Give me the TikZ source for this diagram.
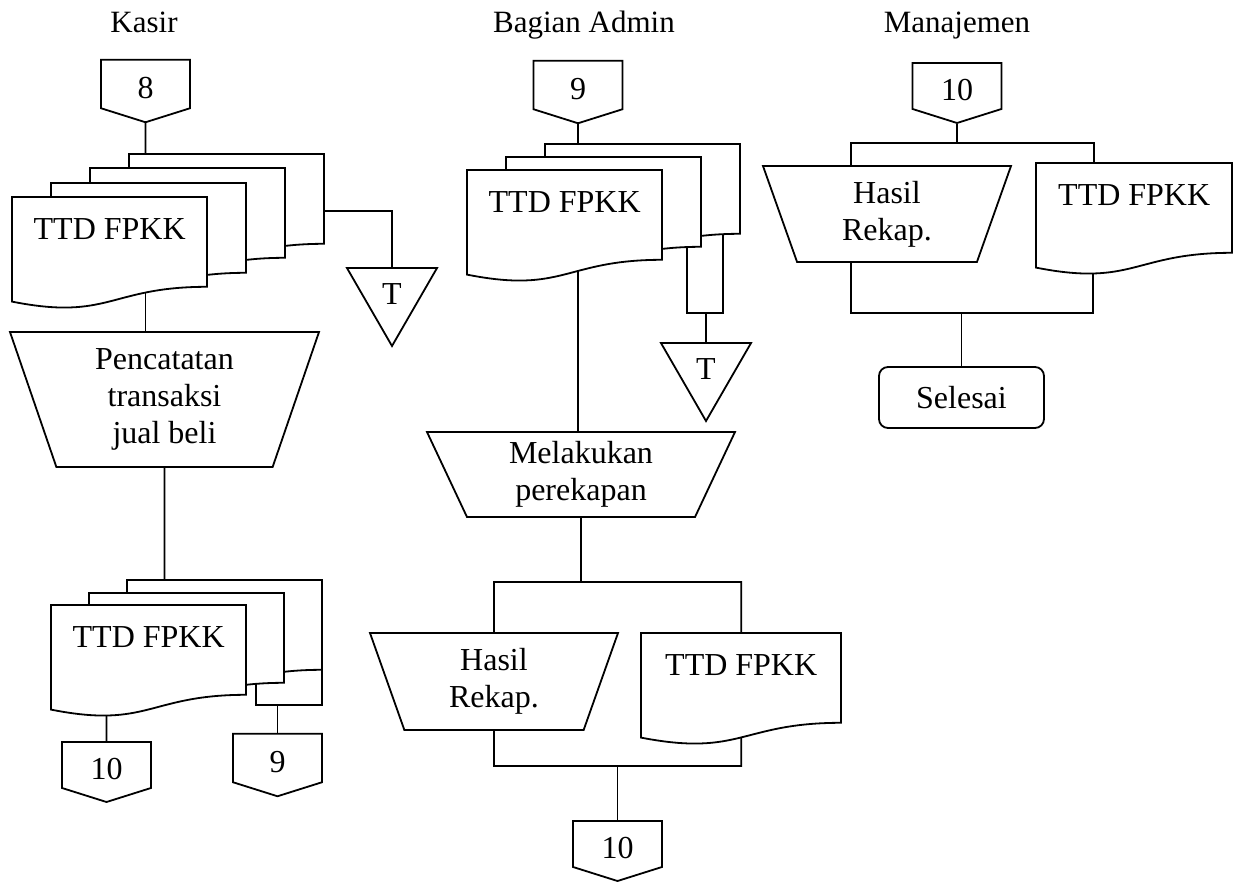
\documentclass[tikz,border=0pt]{standalone}
\usepackage{fontspec}
\setmainfont{Liberation Serif}
\usepackage{tikz}
\usetikzlibrary{shapes.geometric,shapes.symbols,backgrounds}
\tikzset{
  garis/.style={line width=1.8pt, line join=miter},
  dokteks/.style={inner sep=0pt, text height=42pt, text depth=62.6pt},
  manual/.style={trapezium, trapezium stretches body, shape border rotate=180,
    draw, garis, fill=white, align=center, inner sep=0pt},
  konektor/.style={signal, signal to=south, signal pointer angle=145, draw, garis,
    fill=white, minimum width=89pt, minimum height=51pt, inner sep=0pt,
    text height=29pt, text depth=0pt},
  simpan/.style={regular polygon, regular polygon sides=3, shape border rotate=180,
    draw, garis, fill=white, minimum size=104pt, inner sep=0pt},
  akhir/.style={rectangle, rounded corners=9pt, draw, garis, fill=white,
    minimum width=165pt, minimum height=61pt},
  judul/.style={anchor=base, font=\fontsize{31pt}{37pt}\selectfont},
}
% dokumen: [lebar]{nama}{pojok kiri atas}{teks}
\newcommand{\dok}[4][195]{%
  \draw[garis, fill=white] #3 -- ++(#1,0) -- ++(0,89.8)
    .. controls +(-#1/2,0) and +(#1/2,19.4) .. ++(-#1,14.8) -- cycle;
  \node[dokteks, minimum width=#1pt, anchor=north west] (#2) at #3 {#4};
}

\begin{document}
\begin{tikzpicture}[x=1pt, y=-1pt, font=\fontsize{32pt}{37pt}\selectfont]
  \useasboundingbox (0,0) rectangle (1235,883);

  % judul kolom
  \node[judul] (hkasir) at (144,33) {Kasir};
  \node[judul] (hadmin) at (584,33) {Bagian Admin};
  \node[judul] (hmjm) at (957,33) {Manajemen};

  % kasir
  \node[konektor] (ksr-8) at (145.5,84) {8};
  \dok{ksr-d4}{(129,154)}{}
  \dok{ksr-d3}{(90,168)}{}
  \dok{ksr-d2}{(51,183)}{}
  \dok{ksr-d1}{(12,197)}{TTD FPKK}
  \node[simpan] (ksr-t) at (392,294) {T};
  \coordinate (ksr-s) at (392,211);
  \node[manual, trapezium angle=65.5, minimum width=309pt, minimum height=135pt]
    (ksr-catat) at (164.5,399.5) {Pencatatan\\transaksi\\jual beli};
  \dok{ksr-e3}{(127,580)}{}
  \dok{ksr-e2}{(89,593)}{}
  \dok{ksr-e1}{(51,605)}{TTD FPKK}
  \coordinate (ksr-k1) at (256,705);
  \coordinate (ksr-k2) at (322,705);
  \node[konektor] (ksr-10) at (106.5,765) {10};
  \node[konektor] (ksr-9) at (277.5,758) {9};

  % bagian admin
  \node[konektor] (adm-9) at (578,85) {9};
  \dok{adm-d3}{(545,144)}{}
  \dok{adm-d2}{(506,157)}{}
  \dok{adm-d1}{(467,170)}{TTD FPKK}
  \coordinate (adm-k1) at (687,313);
  \coordinate (adm-k2) at (723,313);
  \node[simpan] (adm-t) at (706,369) {T};
  \node[manual, trapezium angle=58.8, minimum width=308pt, minimum height=85pt]
    (adm-rekap) at (581,474.5) {Melakukan\\perekapan};
  \coordinate (adm-a) at (580,582);
  \node[manual, trapezium angle=62.5, minimum width=248pt, minimum height=97pt]
    (adm-hasil) at (494,681.5) {Hasil\\Rekap.};
  \dok[200]{adm-ttd}{(641,633)}{TTD FPKK}
  \coordinate (adm-b) at (616,766);
  \node[konektor] (adm-10) at (617.5,844) {10};

  % manajemen
  \node[konektor] (mjm-10) at (957,86) {10};
  \coordinate (mjm-a) at (851,143);
  \coordinate (mjm-b) at (1094,143);
  \node[manual, trapezium angle=62.7, minimum width=248pt, minimum height=96pt]
    (mjm-hasil) at (887,214) {Hasil\\Rekap.};
  \dok[196]{mjm-ttd}{(1036,163)}{TTD FPKK}
  \coordinate (mjm-c) at (851,313);
  \coordinate (mjm-d) at (1093,313);
  \node[akhir] (selesai) at (961.5,397.5) {Selesai};

  % garis penghubung
  \begin{scope}[on background layer]
    \draw[garis] (ksr-8) -- (ksr-8 |- ksr-d4.north);
    \draw[garis] (ksr-d4.center |- ksr-s) -- (ksr-s) -- (ksr-s |- ksr-t.center);
    \draw[garis] (ksr-8 |- ksr-d1.center) -- (ksr-8 |- ksr-catat.center);
    \draw[garis] (ksr-catat) -- (ksr-catat |- ksr-e3.north);
    \draw[garis] (ksr-10) -- (ksr-10 |- ksr-e1.center);
    \draw[garis] (ksr-k1 |- ksr-e2.center) -- (ksr-k1) -- (ksr-k2) -- (ksr-k2 |- ksr-e3.center);
    \draw[garis] (ksr-9) -- (ksr-9 |- ksr-k1);

    \draw[garis] (adm-9) -- (adm-9 |- adm-d3.north);
    \draw[garis] (adm-9 |- adm-d1.center) -- (adm-9 |- adm-rekap.center);
    \draw[garis] (adm-k1 |- adm-d2.center) -- (adm-k1) -- (adm-k2) -- (adm-k2 |- adm-d3.center);
    \draw[garis] (adm-t) -- (adm-t |- adm-k1);
    \draw[garis] (adm-rekap) -- (adm-rekap |- adm-a);
    \draw[garis] (adm-hasil) -- (adm-hasil |- adm-a) -- (adm-ttd |- adm-a) -- (adm-ttd);
    \draw[garis] (adm-hasil) -- (adm-hasil |- adm-b) -- (adm-ttd |- adm-b) -- (adm-ttd);
    \draw[garis] (adm-10) -- (adm-10 |- adm-b);

    \draw[garis] (mjm-10) -- (mjm-10 |- mjm-a);
    \draw[garis] (mjm-a |- mjm-hasil) -- (mjm-a) -- (mjm-b) -- (mjm-b |- mjm-ttd);
    \draw[garis] (mjm-c |- mjm-hasil) -- (mjm-c) -- (mjm-d) -- (mjm-d |- mjm-ttd);
    \draw[garis] (selesai) -- (selesai |- mjm-c);
  \end{scope}
\end{tikzpicture}
\end{document}
